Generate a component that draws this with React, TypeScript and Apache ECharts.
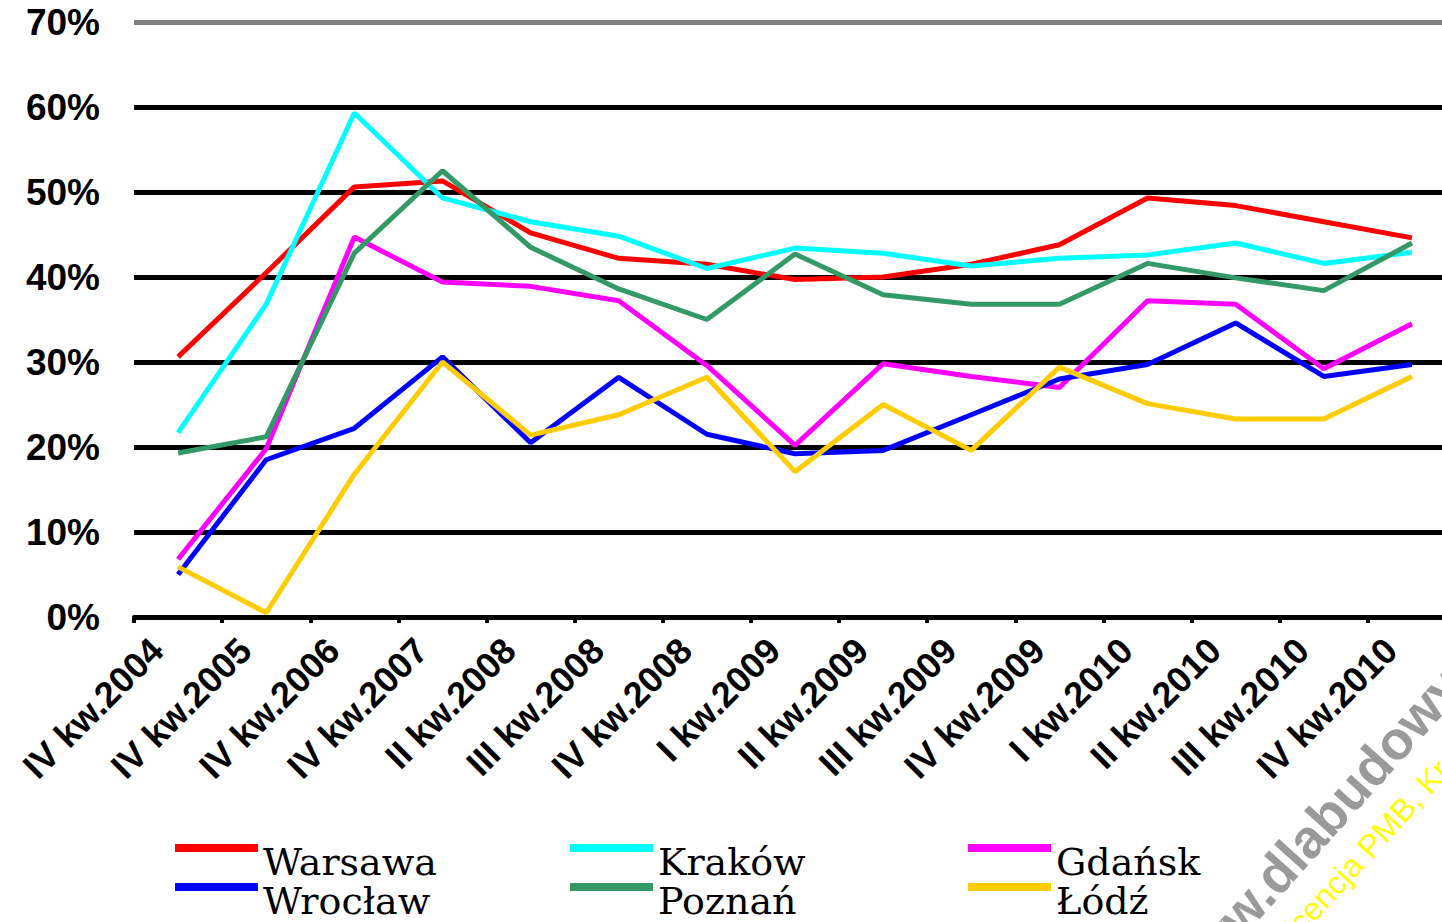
import React, { useEffect, useRef } from 'react';
import * as echarts from 'echarts';

const categories = [
  'IV kw.2004', 'IV kw.2005', 'IV kw.2006', 'IV kw.2007', 'II kw.2008',
  'III kw.2008', 'IV kw.2008', 'I kw.2009', 'II kw.2009', 'III kw.2009',
  'IV kw.2009', 'I kw.2010', 'II kw.2010', 'III kw.2010', 'IV kw.2010',
];

const warsawa = [30.6, 40.5, 50.6, 51.3, 45.2, 42.2, 41.5, 39.7, 40.0, 41.5, 43.8, 49.3, 48.4, 46.5, 44.6];
const krakow = [21.7, 36.8, 59.3, 49.3, 46.5, 44.8, 41.0, 43.4, 42.8, 41.3, 42.2, 42.6, 44.0, 41.6, 42.9];
const gdansk = [6.8, 19.8, 44.7, 39.4, 38.9, 37.2, 29.6, 20.2, 29.8, 28.3, 27.0, 37.2, 36.8, 29.2, 34.5];
const wroclaw = [5.0, 18.5, 22.2, 30.6, 20.5, 28.2, 21.5, 19.2, 19.6, 23.8, 28.0, 29.7, 34.6, 28.3, 29.7];
const poznan = [19.3, 21.2, 42.8, 52.5, 43.5, 38.6, 35.0, 42.7, 37.9, 36.8, 36.8, 41.6, 39.9, 38.4, 44.0];
const lodz = [5.9, 0.5, 16.8, 30.0, 21.4, 23.8, 28.2, 17.1, 25.0, 19.6, 29.4, 25.1, 23.3, 23.3, 28.3];

const seriesNames = ['Warsawa', 'Kraków', 'Gdańsk', 'Wrocław', 'Poznań', 'Łódź'];
const seriesColors = ['#ff0000', '#00ffff', '#ff00ff', '#0000ff', '#339966', '#ffcc00'];

const yMin = 0;
const yMax = 70;
const yStep = 10;

const watermarkMain = 'www.dlabudowy.pl';
const watermarkSub = 'Licencja PMB, Kraków';

// legend marker: bar at the top of a taller (invisible) box
const legendIcon = 'path://M0,0H83V8H0Z M0,36L0.01,36';

export default function App() {
  const ref = useRef<HTMLDivElement>(null);

  useEffect(() => {
    if (!ref.current) return;
    const chart = echarts.init(ref.current, null, { renderer: 'svg' });
    const values = [warsawa, krakow, gdansk, wroclaw, poznan, lodz];
    const colLeft = [175, 570, 968];
    const rowTop = [843, 882];

    chart.setOption({
      animation: false,
      backgroundColor: '#ffffff',
      grid: {
        left: 134,
        right: -14,
        top: 22,
        bottom: 305,
        containLabel: false,
        outerBoundsMode: 'none',
      },
      xAxis: {
        type: 'category',
        data: categories,
        boundaryGap: true,
        axisLine: { lineStyle: { color: '#000', width: 4 } },
        axisTick: { show: true, length: 6, lineStyle: { color: '#000', width: 4 } },
        axisLabel: {
          interval: 0,
          rotate: 45,
          margin: 6,
          padding: [0, 30, 0, 0],
          fontSize: 36,
          fontWeight: 'bold',
          fontFamily: 'Liberation Sans',
          color: '#000',
        },
        splitLine: { show: false },
      },
      yAxis: {
        type: 'value',
        min: yMin,
        max: yMax,
        interval: yStep,
        axisLine: { show: false },
        axisTick: { show: false },
        axisLabel: {
          formatter: '{value}%',
          fontSize: 37,
          fontWeight: 'bold',
          fontFamily: 'Liberation Sans',
          color: '#000',
          margin: 34,
        },
        splitLine: {
          lineStyle: {
            color: ['#000', '#000', '#000', '#000', '#000', '#000', '#000', '#808080'],
            width: 5,
          },
        },
      },
      legend: seriesNames.map((name, i) => ({
        data: [name],
        left: colLeft[i % 3],
        top: rowTop[Math.floor(i / 3)],
        padding: 0,
        icon: legendIcon,
        itemWidth: 83,
        itemHeight: 36,
        selectedMode: false,
        textStyle: {
          fontSize: 38,
          lineHeight: 38,
          fontFamily: 'DejaVu Serif',
          color: '#000',
        },
      })),
      series: seriesNames.map((name, i) => ({
        name,
        type: 'line',
        data: values[i],
        symbol: 'none',
        color: seriesColors[i],
        lineStyle: { width: 5, color: seriesColors[i] },
        z: 2 + i,
      })),
      graphic: [
        {
          type: 'text',
          x: 1192,
          y: 1007,
          rotation: 0.84,
          silent: true,
          z: 100,
          style: {
            text: watermarkMain,
            fill: '#9a9a9a',
            font: 'bold 54px "Liberation Sans"',
            align: 'left',
            verticalAlign: 'bottom',
          },
        },
        {
          type: 'text',
          x: 1290,
          y: 957,
          rotation: 0.83,
          silent: true,
          z: 100,
          style: {
            text: watermarkSub,
            fill: '#ffff00',
            font: '32px "Liberation Sans"',
            align: 'left',
            verticalAlign: 'bottom',
          },
        },
      ],
    });

    return () => chart.dispose();
  }, []);

  return (
    <div
      ref={ref}
      style={{ position: 'fixed', left: 0, top: 0, width: 1442, height: 922, background: '#fff' }}
    />
  );
}
